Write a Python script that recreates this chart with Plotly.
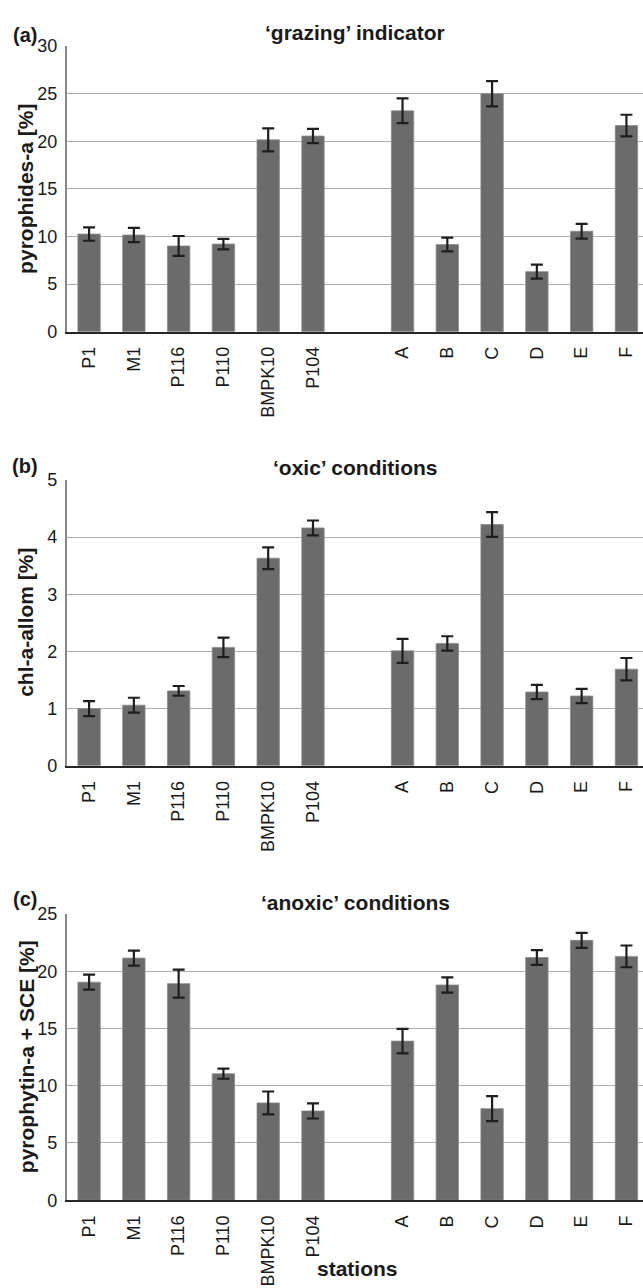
import plotly.graph_objects as go

W, H = 643, 1288

stations = ["P1", "M1", "P116", "P110", "BMPK10", "P104", " ", "A", "B", "C", "D", "E", "F"]

grazing = [10.25, 10.15, 9.0, 9.2, 20.15, 20.55, None, 23.2, 9.15, 25.0, 6.3, 10.55, 21.65]
grazing_err = [0.7, 0.75, 1.05, 0.55, 1.2, 0.75, None, 1.3, 0.72, 1.33, 0.74, 0.78, 1.14]

oxic = [1.0, 1.06, 1.31, 2.07, 3.63, 4.16, None, 2.01, 2.14, 4.22, 1.29, 1.22, 1.69]
oxic_err = [0.13, 0.13, 0.085, 0.17, 0.19, 0.13, None, 0.21, 0.125, 0.215, 0.125, 0.125, 0.195]

anoxic = [19.05, 21.15, 18.92, 11.05, 8.5, 7.8, None, 13.9, 18.8, 8.0, 21.2, 22.7, 21.3]
anoxic_err = [0.66, 0.66, 1.22, 0.44, 1.0, 0.66, None, 1.07, 0.66, 1.09, 0.64, 0.65, 0.95]

panel_titles = ["\u2018grazing\u2019 indicator", "\u2018oxic\u2019 conditions", "\u2018anoxic\u2019 conditions"]
panel_letters = ["(a)", "(b)", "(c)"]
y_titles = ["pyrophides-a [%]", "chl-a-allom [%]", "pyrophytin-a + SCE [%]"]
y_ranges = [(0, 30), (0, 5), (0, 25)]
y_dtick = [5, 1, 5]
x_title = "stations"

# pixel layout
plot_left = 66.7
plot_tops = [36.7, 477.3, 918.3]
plot_bottoms = [326.7, 767.7, 1209.0]
title_y = [23, 465, 907]
letter_y = [25, 463, 903]

FONT = "Liberation Sans, Arial, sans-serif"
BAR = "#6b6b6b"
GRID = "#b0b0b0"
TXT = "#1a1a1a"

def px_x(x):
    return x / W

def px_y(y):
    return 1 - y / H

fig = go.Figure()
series = [(grazing, grazing_err), (oxic, oxic_err), (anoxic, anoxic_err)]
annotations = []
for i, (vals, errs) in enumerate(series):
    n = "" if i == 0 else str(i + 1)
    fig.add_trace(go.Bar(
        x=stations, y=vals,
        xaxis="x" + n, yaxis="y" + n,
        width=0.5,
        marker=dict(color=BAR, line=dict(color="#8c8c8c", width=0.8)),
        error_y=dict(type="data", array=errs, visible=True,
                     color="#1e1e1e", thickness=2.2, width=6),
        showlegend=False,
    ))
    fig.update_layout(**{
        "xaxis" + n: dict(
            domain=[px_x(plot_left), 1.0],
            anchor="y" + n,
            type="category",
            categoryorder="array", categoryarray=stations,
            range=[-0.5, 12.37],
            tickangle=-90,
            tickfont=dict(family=FONT, size=18, color=TXT),
            showline=True, linecolor="#252525", linewidth=2,
            ticks="", showgrid=False, zeroline=False,
            ticklabelstandoff=6,
            fixedrange=True,
        ),
        "yaxis" + n: dict(
            domain=[px_y(plot_bottoms[i]), px_y(plot_tops[i])],
            anchor="x" + n,
            range=list(y_ranges[i]),
            dtick=y_dtick[i], tick0=0,
            tickfont=dict(family=FONT, size=18, color=TXT),
            showline=True, linecolor="#888888", linewidth=1.6,
            showgrid=True, gridcolor=GRID, gridwidth=1.2,
            zeroline=False, ticks="",
            ticklabelstandoff=4,
            fixedrange=True,
        ),
    })
    annotations.append(dict(
        text="<b>" + panel_titles[i] + "</b>", x=px_x(355), y=px_y(title_y[i]),
        xref="paper", yref="paper", showarrow=False, xanchor="center", yanchor="middle",
        font=dict(family=FONT, size=21, color=TXT),
    ))
    annotations.append(dict(
        text="<b>" + panel_letters[i] + "</b>", x=px_x(25), y=px_y(letter_y[i]),
        xref="paper", yref="paper", showarrow=False, xanchor="center", yanchor="middle",
        font=dict(family=FONT, size=20, color=TXT),
    ))
    annotations.append(dict(
        text="<b>" + y_titles[i] + "</b>", x=px_x(26), y=px_y((plot_tops[i] + plot_bottoms[i]) / 2),
        xref="paper", yref="paper", showarrow=False, xanchor="center", yanchor="middle",
        textangle=-90,
        font=dict(family=FONT, size=21, color=TXT),
    ))

annotations.append(dict(
    text="<b>" + x_title + "</b>", x=px_x(357), y=px_y(1278),
    xref="paper", yref="paper", showarrow=False, xanchor="center", yanchor="middle",
    font=dict(family=FONT, size=21, color=TXT),
))

fig.update_layout(
    width=W, height=H,
    margin=dict(l=0, r=0, t=0, b=0),
    paper_bgcolor="white", plot_bgcolor="white",
    annotations=annotations,
    bargap=0.5,
)

fig.write_html("out.html", config={"displayModeBar": False})
